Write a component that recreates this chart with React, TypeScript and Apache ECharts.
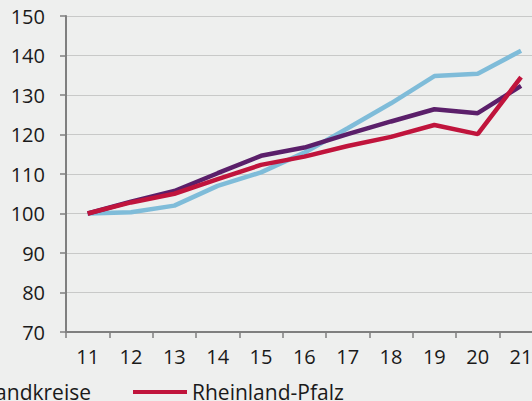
import React, { useEffect, useRef } from "react";
import * as echarts from "echarts";

const categories = ["11", "12", "13", "14", "15", "16", "17", "18", "19", "20", "21"];
const kreisfreieStaedte = [100, 100.3, 102.0, 107.0, 110.4, 115.4, 121.6, 127.9, 134.8, 135.4, 141.2];
const landkreise = [100, 103.0, 105.7, 110.2, 114.6, 116.7, 120.1, 123.3, 126.4, 125.4, 132.3];
const rheinlandPfalz = [100, 102.8, 105.0, 108.7, 112.3, 114.4, 117.1, 119.4, 122.4, 120.1, 134.5];

const FONT = "'Open Sans', 'Noto Sans', sans-serif";

export default function App() {
  const ref = useRef<HTMLDivElement>(null);
  useEffect(() => {
    if (!ref.current) return;
    const chart = echarts.init(ref.current, null, { renderer: "svg" });
    const legendText = { fontFamily: FONT, fontSize: 21, color: "#1a1a1a", lineHeight: 22 };
    chart.setOption({
      animation: false,
      backgroundColor: "#eeefee",
      textStyle: { fontFamily: FONT },
      grid: {
        left: 66,
        top: 16,
        width: 476.7,
        height: 316,
        containLabel: false,
        outerBoundsMode: "none",
      },
      legend: [
        {
          data: ["Kreisfreie Städte", "Landkreise"],
          right: 441,
          width: 1000,
          top: 381,
          padding: 0,
          itemGap: 42,
          itemWidth: 54,
          itemHeight: 4,
          icon: "rect",
          textStyle: legendText,
        },
        {
          data: ["Rheinland-Pfalz"],
          left: 133,
          top: 381,
          padding: 0,
          itemWidth: 54,
          itemHeight: 4,
          icon: "rect",
          textStyle: legendText,
        },
      ],
      xAxis: {
        type: "category",
        data: categories,
        boundaryGap: true,
        axisLine: { show: true, lineStyle: { color: "#7f7f7f", width: 2 } },
        axisTick: { show: true, length: 6, lineStyle: { color: "#7f7f7f", width: 1.5 } },
        axisLabel: { fontFamily: FONT, fontSize: 20, color: "#1a1a1a", margin: 14 },
        splitLine: { show: false },
      },
      yAxis: {
        type: "value",
        min: 70,
        max: 150,
        interval: 10,
        axisLine: { show: true, lineStyle: { color: "#7f7f7f", width: 2 } },
        axisTick: { show: true, length: 6, lineStyle: { color: "#7f7f7f", width: 1.5 } },
        axisLabel: { fontFamily: FONT, fontSize: 20, color: "#1a1a1a", margin: 21 },
        splitLine: { show: true, lineStyle: { color: "#c8c9c8", width: 1 } },
      },
      series: [
        {
          name: "Kreisfreie Städte",
          type: "line",
          data: kreisfreieStaedte,
          symbol: "none",
          color: "#7fbcd9",
          lineStyle: { width: 4.5, color: "#7fbcd9" },
        },
        {
          name: "Landkreise",
          type: "line",
          data: landkreise,
          symbol: "none",
          color: "#5b1f6a",
          lineStyle: { width: 4.5, color: "#5b1f6a" },
        },
        {
          name: "Rheinland-Pfalz",
          type: "line",
          data: rheinlandPfalz,
          symbol: "none",
          color: "#c0143c",
          lineStyle: { width: 4.5, color: "#c0143c" },
        },
      ],
    });
    return () => chart.dispose();
  }, []);
  return (
    <div
      ref={ref}
      style={{ position: "fixed", left: 0, top: 0, width: 532, height: 401 }}
    />
  );
}
